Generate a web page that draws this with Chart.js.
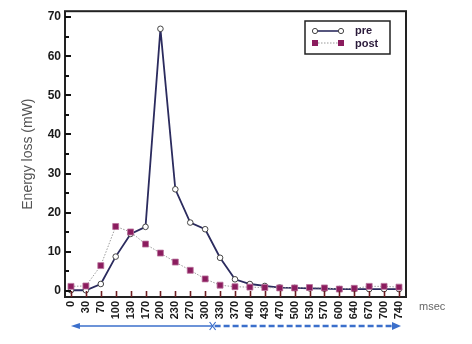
<!DOCTYPE html>
<html><head><meta charset="utf-8">
<script src="https://cdn.jsdelivr.net/npm/chart.js@4/dist/chart.umd.min.js"></script>
<style>html,body{margin:0;padding:0;background:#fff}#wrap{width:472px;height:344px;position:relative}</style>
</head><body><div id="wrap"><canvas id="c" width="472" height="344"></canvas></div>
<script>
const timeLabels = ['0','30','70','100','130','170','200','230','270','300','330','370','400','430','470','500','530','570','600','640','670','700','740'];
const preValues  = [0.2,0.2,1.8,8.8,14.6,16.4,67,26,17.5,15.8,8.5,3.0,1.8,1.3,0.9,0.8,0.7,0.6,0.5,0.5,0.5,0.5,0.5];
const postValues = [1.2,1.3,6.5,16.5,15.1,12.0,9.7,7.4,5.3,3.1,1.5,1.1,1.0,0.9,0.8,0.8,0.9,0.8,0.5,0.7,1.2,1.2,1.0];
const yTickValues = [0,10,20,30,40,50,60,70];
const seriesNames = ['pre','post'];

const PRE_COLOR = '#2b2b5e';
const POST_COLOR = '#8b1c5e';
const ARROW_COLOR = '#3b6fcb';

const decor = {
  id: 'decor',
  afterDraw(chart) {
    const ctx = chart.ctx, a = chart.chartArea;
    const xs = chart.scales.x, ys = chart.scales.y;
    ctx.save();
    // frame
    ctx.strokeStyle = '#222'; ctx.lineWidth = 2;
    ctx.strokeRect(a.left, a.top, a.right - a.left, a.bottom - a.top);
    // y ticks inside (major & minor)
    ctx.lineWidth = 2; ctx.strokeStyle = '#111';
    for (let v = 0; v <= 70; v += 5) {
      const y = Math.round(ys.getPixelForValue(v));
      const len = v % 10 === 0 ? 6 : 4;
      ctx.beginPath(); ctx.moveTo(a.left, y); ctx.lineTo(a.left + len, y); ctx.stroke();
    }
    // x ticks inside
    ctx.strokeStyle = '#6e1e22'; ctx.lineWidth = 1.6;
    timeLabels.forEach((l, i) => {
      const x = Math.round(xs.getPixelForValue(i)) + 0.5;
      ctx.beginPath(); ctx.moveTo(x, a.bottom); ctx.lineTo(x, a.bottom - 6); ctx.stroke();
    });
    // legend
    const lx = 305, ly = 21, lw = 85, lh = 33;
    ctx.fillStyle = '#fff'; ctx.fillRect(lx, ly, lw, lh);
    ctx.strokeStyle = '#222'; ctx.lineWidth = 1.5; ctx.strokeRect(lx, ly, lw, lh);
    // pre
    let y1 = 31;
    ctx.strokeStyle = PRE_COLOR; ctx.lineWidth = 1.6; ctx.setLineDash([]);
    ctx.beginPath(); ctx.moveTo(315, y1); ctx.lineTo(341, y1); ctx.stroke();
    [315, 341].forEach(x => { ctx.beginPath(); ctx.arc(x, y1, 2.6, 0, Math.PI*2); ctx.fillStyle='#fff'; ctx.fill(); ctx.lineWidth=1; ctx.strokeStyle='#444'; ctx.stroke(); });
    let y2 = 43;
    ctx.strokeStyle = '#999'; ctx.lineWidth = 1; ctx.setLineDash([1.5,1.5]);
    ctx.beginPath(); ctx.moveTo(315, y2); ctx.lineTo(341, y2); ctx.stroke();
    ctx.setLineDash([]);
    [315, 341].forEach(x => { ctx.fillStyle = POST_COLOR; ctx.fillRect(x-3, y2-3, 6, 6); });
    ctx.fillStyle = '#2a1a3a'; ctx.font = 'bold 11px "Liberation Sans", Arial, sans-serif';
    ctx.textBaseline = 'middle'; ctx.textAlign = 'left';
    ctx.fillText(seriesNames[0], 355, y1);
    ctx.fillText(seriesNames[1], 355, y2 + 1);
    // msec
    ctx.fillStyle = '#666'; ctx.font = '11px "Liberation Sans", Arial, sans-serif';
    ctx.fillText('msec', 419, 307);
    // arrows
    const ay = 326;
    const xStart = xs.getPixelForValue(0), xMid = xs.getPixelForValue(9.5), xEnd = xs.getPixelForValue(22) + 2;
    ctx.strokeStyle = ARROW_COLOR; ctx.fillStyle = ARROW_COLOR;
    ctx.lineWidth = 1.5;
    ctx.beginPath(); ctx.moveTo(xMid, ay); ctx.lineTo(xStart + 4, ay); ctx.stroke();
    ctx.beginPath(); ctx.moveTo(xStart, ay); ctx.lineTo(xStart + 9, ay - 3); ctx.lineTo(xStart + 9, ay + 3); ctx.closePath(); ctx.fill();
    ctx.lineWidth = 2.5; ctx.setLineDash([6, 3]);
    ctx.beginPath(); ctx.moveTo(xMid + 2, ay); ctx.lineTo(xEnd - 6, ay); ctx.stroke();
    ctx.setLineDash([]);
    ctx.beginPath(); ctx.moveTo(xEnd, ay); ctx.lineTo(xEnd - 9, ay - 4); ctx.lineTo(xEnd - 9, ay + 4); ctx.closePath(); ctx.fill();
    ctx.lineWidth = 1.2;
    ctx.beginPath(); ctx.moveTo(xMid - 3, ay - 4); ctx.lineTo(xMid + 3, ay + 4); ctx.moveTo(xMid - 3, ay + 4); ctx.lineTo(xMid + 3, ay - 4); ctx.stroke();
    ctx.restore();
  }
};

new Chart(document.getElementById('c'), {
  type: 'line',
  data: {
    datasets: [
      {
        label: seriesNames[1],
        data: postValues.map((v, i) => ({x: i, y: v})),
        borderColor: '#9a9a9a', borderWidth: 1, borderDash: [1.5, 1.5],
        pointStyle: 'rect', pointRadius: 4.2, pointBackgroundColor: POST_COLOR,
        pointBorderColor: '#b8709a', pointBorderWidth: 0.8,
        tension: 0, order: 1
      },
      {
        label: seriesNames[0],
        data: preValues.map((v, i) => ({x: i, y: v})),
        borderColor: PRE_COLOR, borderWidth: 1.8,
        pointStyle: 'circle', pointRadius: 2.8, pointBackgroundColor: '#fff',
        pointBorderColor: '#444', pointBorderWidth: 1,
        tension: 0, order: 2
      }
    ]
  },
  options: {
    responsive: false, animation: false,
    layout: { padding: { top: 9, right: 66, left: 0, bottom: 0 } },
    plugins: { legend: { display: false }, tooltip: { enabled: false } },
    scales: {
      x: {
        type: 'linear', min: -0.4, max: 22.47,
        afterBuildTicks: s => { s.ticks = timeLabels.map((l, i) => ({value: i})); },
        afterFit: s => { s.height = 47; },
        grid: { display: false, drawTicks: false },
        border: { display: false },
        ticks: {
          autoSkip: false, minRotation: 90, maxRotation: 90, padding: 4,
          color: '#1a1a1a', font: { family: '"Liberation Sans", Arial, sans-serif', size: 11, weight: 'bold' },
          callback: (v) => timeLabels[v]
        }
      },
      y: {
        min: -1.52, max: 71.5,
        afterBuildTicks: s => { s.ticks = yTickValues.map(v => ({value: v})); },
        afterFit: s => { s.width = 65; },
        grid: { display: false, drawTicks: false },
        border: { display: false },
        ticks: {
          padding: 4, color: '#1a1a1a',
          font: { family: '"Liberation Sans", Arial, sans-serif', size: 12, weight: 'bold' }
        },
        title: {
          display: true, text: 'Energy loss (mW)', color: '#555',
          padding: { top: 20, bottom: 0 },
          font: { family: '"Liberation Sans", Arial, sans-serif', size: 14 }
        }
      }
    }
  },
  plugins: [decor]
});
</script></body></html>
